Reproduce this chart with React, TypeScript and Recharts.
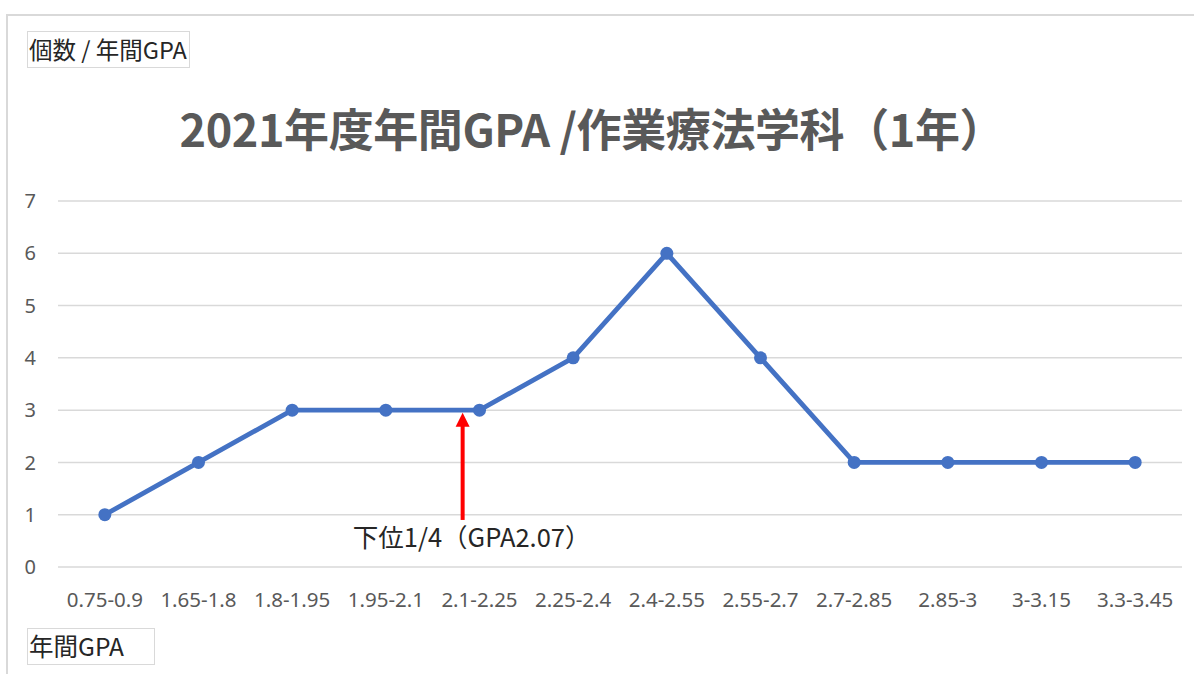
import React from "react";
import { LineChart, Line, XAxis, YAxis, CartesianGrid, ReferenceLine } from "recharts";

const categories = [
  "0.75-0.9", "1.65-1.8", "1.8-1.95", "1.95-2.1", "2.1-2.25", "2.25-2.4",
  "2.4-2.55", "2.55-2.7", "2.7-2.85", "2.85-3", "3-3.15", "3.3-3.45",
];
const counts = [1, 2, 3, 3, 3, 4, 6, 4, 2, 2, 2, 2];
const yTicks = [0, 1, 2, 3, 4, 5, 6, 7];
const titleText = "2021年度年間GPA /作業療法学科（1年）";
const yAxisTitle = "個数 / 年間GPA";
const xAxisTitle = "年間GPA";
const annotationText = "下位1/4（GPA2.07）";
const annotationX = 3.82; // position on category index scale
const annotationFrom = 0.9;
const annotationTo = 2.95;

const data = categories.map((c, i) => ({ idx: i, label: c, count: counts[i] }));
const xTicks = categories.map((_, i) => i);

const FONT = "'Noto Sans', 'Noto Sans CJK JP', sans-serif";
const CJK = "'Noto Sans CJK JP', 'Noto Sans', sans-serif";

const ArrowShape = (props: any) => {
  const { x1, y1, x2, y2 } = props;
  if ([x1, y1, x2, y2].some((v) => v === undefined || isNaN(v))) return null;
  const bottomY = Math.max(y1, y2);
  const topY = Math.min(y1, y2);
  const x = x1;
  const headLen = 14;
  const headHalf = 7;
  return (
    <g>
      <line x1={x} y1={bottomY} x2={x} y2={topY + headLen - 1} stroke="#FF0000" strokeWidth={4} />
      <polygon
        points={`${x},${topY} ${x - headHalf},${topY + headLen} ${x + headHalf},${topY + headLen}`}
        fill="#FF0000"
      />
      <text
        x={x + 9}
        y={bottomY + 27}
        textAnchor="middle"
        fontFamily={CJK}
        fontSize={25.5}
        fill="#262626"
      >
        {annotationText}
      </text>
    </g>
  );
};

export default function App() {
  return (
    <div style={{ position: "absolute", left: 0, top: 0, width: 1194, height: 674, background: "#fff", overflow: "hidden" }}>
      <div
        style={{
          position: "absolute",
          left: 6,
          top: 14,
          width: 1300,
          height: 800,
          border: "2px solid #d9d9d9",
          boxSizing: "border-box",
        }}
      />
      <LineChart
        width={1194}
        height={674}
        data={data}
        margin={{ top: 201, right: 12, bottom: 67, left: 18 }}
        style={{ position: "absolute", left: 0, top: 0 }}
      >
        <CartesianGrid vertical={false} stroke="#d9d9d9" strokeWidth={1.5} />
        <XAxis
          dataKey="idx"
          type="number"
          domain={[-0.5, 11.5]}
          ticks={xTicks}
          interval={0}
          tickFormatter={(v: number) => categories[v] ?? ""}
          axisLine={false}
          tickLine={false}
          height={40}
          tickMargin={19}
          tick={{ fill: "#595959", fontSize: 20.5, fontFamily: FONT }}
        />
        <YAxis
          domain={[0, 7]}
          ticks={yTicks}
          interval={0}
          axisLine={false}
          tickLine={false}
          width={40}
          tickMargin={16}
          tick={{ fill: "#595959", fontSize: 20, fontFamily: FONT }}
        />
        <Line
          type="linear"
          dataKey="count"
          stroke="#4472C4"
          strokeWidth={4.8}
          dot={{ r: 6.5, fill: "#4472C4", stroke: "#4472C4", strokeWidth: 0 }}
          activeDot={false}
          isAnimationActive={false}
        />
        <ReferenceLine
          segment={[
            { x: annotationX, y: annotationFrom },
            { x: annotationX, y: annotationTo },
          ]}
          ifOverflow="visible"
          shape={ArrowShape}
        />
      </LineChart>
      <svg style={{ position: "absolute", left: 0, top: 0 }} width={1194} height={674} pointerEvents="none">
        <text
          x={592}
          y={147}
          textAnchor="middle"
          fontFamily={CJK}
          fontWeight="bold"
          fontSize={45}
          fill="#595959"
          textLength={825}
          lengthAdjust="spacing"
        >
          {titleText}
        </text>
      </svg>
      <div
        style={{
          position: "absolute",
          left: 27,
          top: 31,
          width: 163,
          height: 37,
          border: "1.5px solid #d9d9d9",
          boxSizing: "border-box",
          fontFamily: CJK,
          fontSize: 23.5,
          lineHeight: "34px",
          color: "#262626",
          paddingLeft: 1,
          whiteSpace: "nowrap",
        }}
      >
        {yAxisTitle}
      </div>
      <div
        style={{
          position: "absolute",
          left: 27,
          top: 628,
          width: 128,
          height: 37,
          border: "1.5px solid #d9d9d9",
          boxSizing: "border-box",
          fontFamily: CJK,
          fontSize: 24.5,
          lineHeight: "34px",
          color: "#262626",
          paddingLeft: 1,
          whiteSpace: "nowrap",
        }}
      >
        {xAxisTitle}
      </div>
    </div>
  );
}
